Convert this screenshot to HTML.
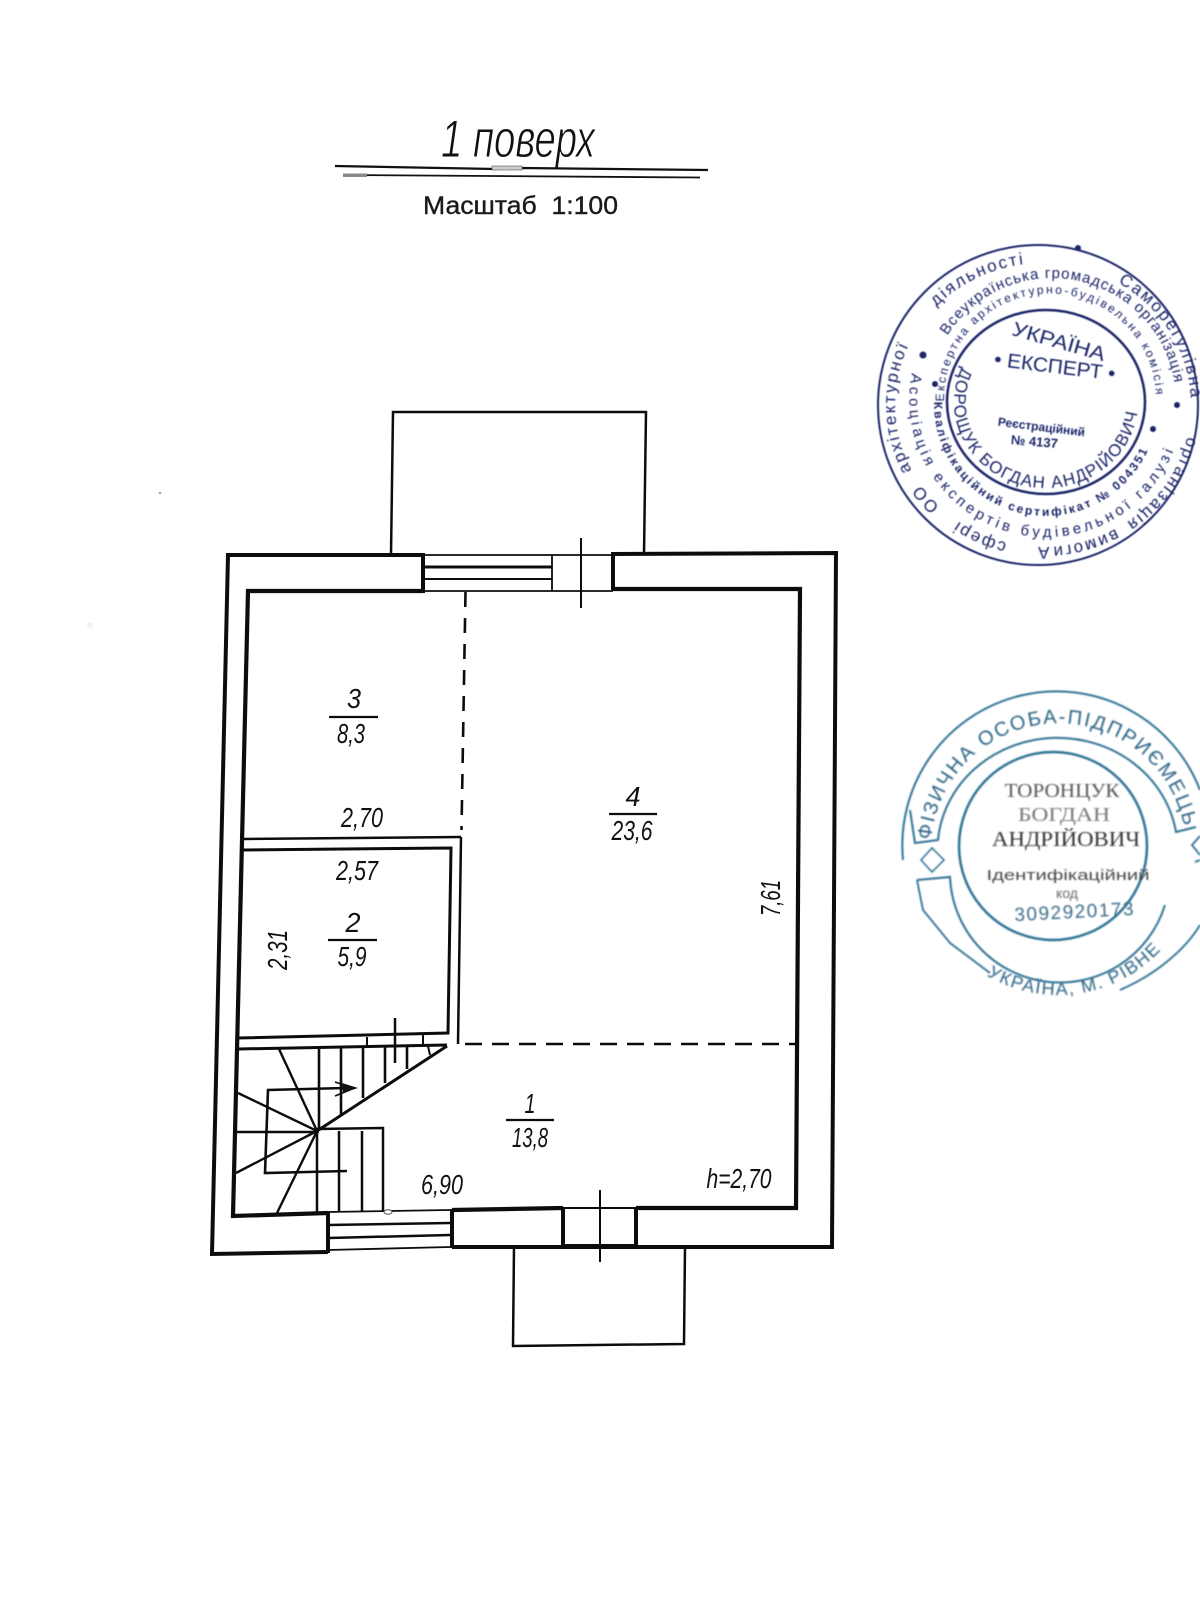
<!DOCTYPE html>
<html lang="uk"><head><meta charset="utf-8"><title>1 поверх</title>
<style>html,body{margin:0;padding:0;background:#fff}svg{display:block}
text{font-family:"Liberation Sans",sans-serif}
.d{font-style:italic;font-size:28px;fill:#111;text-anchor:middle}
.se{font-family:"Liberation Serif",serif}
</style></head><body>
<svg xmlns="http://www.w3.org/2000/svg" width="1200" height="1600" viewBox="0 0 1200 1600">
<defs>
<filter id="b1"><feGaussianBlur stdDeviation="0.55"/></filter>
<filter id="b2"><feGaussianBlur stdDeviation="0.8"/></filter>
<path id="o1b" d="M1043 263A148 142 0 0 1 1043 547A148 142 0 0 1 1043 263"/>
<path id="r2t" d="M928 402A124 124 0 0 1 1176 402"/>
<path id="r2b" d="M912 373A137 137 0 0 0 1175 447"/>
<path id="r3t" d="M946 420A106 106 0 1 1 1154 420"/>
<path id="r3b" d="M934 402A112 112 0 0 0 1152 440"/>
<path id="r4b" d="M962 367A92 86 0 1 0 1138 402"/>
<path id="s2t" d="M931 840A128 128 0 0 1 1186 840"/>
<path id="s2b" d="M918 855A140 140 0 0 0 1198 855"/>
</defs>
<rect width="1200" height="1600" fill="#fff"/>
<circle cx="160" cy="493" r="1.300" fill="#aaa"/>
<circle cx="90" cy="625" r="3" fill="#f1f1f1"/>

<!-- title -->
<text x="441" y="157" font-size="53" font-style="italic" fill="#111" stroke="#fff" stroke-width=".9" textLength="154" lengthAdjust="spacingAndGlyphs">1 поверх</text>
<g fill="none" stroke="#111">
<path d="M335 166L495 169L522 168L708 170" stroke-width="2.200"/>
<path d="M345 175L700 177.500" stroke-width="1.800"/>
</g>
<rect x="343" y="173.500" width="24" height="3.500" fill="#888"/>
<rect x="492" y="166" width="30" height="4" fill="#ccc" stroke="#555" stroke-width=".6"/>
<text x="423" y="214" font-size="25" fill="#1a1a1a" stroke="#1a1a1a" stroke-width=".4" textLength="195" lengthAdjust="spacingAndGlyphs" xml:space="preserve">Масштаб  1:100</text>

<!-- plan -->
<g fill="none" stroke="#0c0c0c" stroke-linejoin="miter" stroke-linecap="butt">
<!-- porches -->
<path d="M391 554L393 412H646L644 554" stroke-width="2.500"/>
<path d="M514 1246L513 1346L684 1344L685 1246" stroke-width="2.500"/>
<!-- outer wall -->
<path d="M423 555H228L212 1254L328 1252" stroke-width="4"/>
<path d="M613 554L836 553L832 1247L452 1247" stroke-width="4"/>
<!-- inner wall -->
<path d="M423 591H248L233 1216L328 1213" stroke-width="4.200"/>
<path d="M613 589H800L796 1208L636 1208" stroke-width="4.200"/>
<path d="M563 1208L452 1210" stroke-width="4.200"/>
<!-- top window/door -->
<path d="M423 553V593M613 552V590" stroke-width="4"/>
<path d="M423 567H552" stroke-width="3"/>
<path d="M423 579H552" stroke-width="2"/>
<path d="M423 591H613M423 555H613M552 555V591" stroke-width="1.800"/>
<path d="M581 538V608" stroke-width="2"/>
<!-- bottom window/door -->
<path d="M328 1212V1253M452 1209V1248M563 1207V1246M636 1207V1246" stroke-width="4"/>
<path d="M328 1225L450 1223" stroke-width="2.500"/>
<path d="M328 1238L450 1235" stroke-width="2.500"/>
<path d="M328 1212L450 1210M328 1250L450 1247" stroke-width="1.800"/>
<path d="M563 1208H636M563 1245H636" stroke-width="2"/>
<path d="M600 1190V1262" stroke-width="2"/>
<!-- dashed -->
<path d="M465.500 592L461.500 830" stroke-width="2.600" stroke-dasharray="15 11"/>
<path d="M465 1044H796" stroke-width="2.400" stroke-dasharray="17 10"/>
<!-- room 2 -->
<path d="M244 839L461 837" stroke-width="2.500"/>
<path d="M243 850L451 848L448 1033L238 1038" stroke-width="3"/>
<path d="M461 837L458 1044" stroke-width="2.500"/>
<path d="M238 1049L447 1045" stroke-width="3"/>
<path d="M367 1037V1048M423 1033V1046" stroke-width="2"/>
<path d="M395 1018V1063" stroke-width="2.500"/>
<!-- stairs -->
<path d="M317 1131L447 1046" stroke-width="3"/>
<path d="M319 1048V1128M341 1048V1115M363 1048V1098M385 1047V1083M407 1047V1069" stroke-width="2.600"/>
<path d="M428 1046L430 1055" stroke-width="2"/>
<path d="M279 1049L317 1131L238 1093M237 1132L317 1132M236 1173L317 1131L277 1213" stroke-width="2.400"/>
<path d="M317 1131V1213M339 1131V1212M362 1131V1212" stroke-width="2.500"/>
<path d="M317 1129L383 1128V1211" stroke-width="2.500"/>
<path d="M345 1088L268 1090L265 1173L347 1171" stroke-width="2.600"/>
<path d="M335 1082L350 1087M335 1096L350 1090" stroke-width="1.600"/>
</g>
<path d="M358 1088L342 1083L343 1093Z" fill="#111"/>
<ellipse cx="388" cy="1212" rx="4" ry="2.200" fill="#fff" stroke="#555"/>

<!-- labels -->
<g stroke="#0c0c0c" stroke-width="2.200">
<path d="M329 717H378M609 814H657M328 940H377M506 1120H554"/>
</g>
<g>
<text class="d" x="354" y="708" textLength="14" lengthAdjust="spacingAndGlyphs">3</text>
<text class="d" x="351" y="743" textLength="28" lengthAdjust="spacingAndGlyphs">8,3</text>
<text class="d" x="633" y="806" textLength="15" lengthAdjust="spacingAndGlyphs">4</text>
<text class="d" x="632" y="840" textLength="41" lengthAdjust="spacingAndGlyphs">23,6</text>
<text class="d" x="353" y="932" textLength="15" lengthAdjust="spacingAndGlyphs">2</text>
<text class="d" x="352" y="966" textLength="29" lengthAdjust="spacingAndGlyphs">5,9</text>
<text class="d" x="530" y="1113" textLength="11" lengthAdjust="spacingAndGlyphs">1</text>
<text class="d" x="530" y="1147" textLength="36" lengthAdjust="spacingAndGlyphs">13,8</text>
<text class="d" x="362" y="827" textLength="42" lengthAdjust="spacingAndGlyphs">2,70</text>
<text class="d" x="357" y="880" textLength="42" lengthAdjust="spacingAndGlyphs">2,57</text>
<text class="d" x="442" y="1194" textLength="42" lengthAdjust="spacingAndGlyphs">6,90</text>
<text class="d" x="739" y="1188" textLength="65" lengthAdjust="spacingAndGlyphs">h=2,70</text>
<text class="d" transform="translate(287 950) rotate(-90)" x="0" y="0" textLength="40" lengthAdjust="spacingAndGlyphs">2,31</text>
<text class="d" transform="translate(780 898) rotate(-90)" x="0" y="0" textLength="36" lengthAdjust="spacingAndGlyphs">7,61</text>
</g>

<!-- stamp 1 -->
<g filter="url(#b1)" fill="#1b2569">
<ellipse cx="1038" cy="405" rx="160" ry="160" fill="none" stroke="#1b2569" stroke-width="2"/>
<ellipse cx="1046" cy="402" rx="99" ry="92" fill="none" stroke="#1b2569" stroke-width="2.500"/>
<g font-size="17" letter-spacing="2">
<text><textPath href="#o1b" startOffset="8.600%">Саморегулівна</textPath></text>
<text><textPath href="#o1b" startOffset="28.500%">організація</textPath></text>
<text><textPath href="#o1b" startOffset="41.700%">вимоги</textPath></text>
<text><textPath href="#o1b" startOffset="49.300%">А</textPath></text>
<text><textPath href="#o1b" startOffset="54%">сфері</textPath></text>
<text><textPath href="#o1b" startOffset="62.500%">ОО</textPath></text>
<text><textPath href="#o1b" startOffset="67.500%">архітектурної</textPath></text>
<text><textPath href="#o1b" startOffset="87%">діяльності</textPath></text>
</g>
<text font-size="15"><textPath href="#r2t" startOffset="18%" textLength="300" lengthAdjust="spacing">Всеукраїнська громадська організація</textPath></text>
<text font-size="15"><textPath href="#r2b" textLength="405" lengthAdjust="spacing">Асоціація експертів будівельної галузі</textPath></text>
<text font-size="12"><textPath href="#r3t" startOffset="5%" textLength="330" lengthAdjust="spacing">Експертна архітектурно-будівельна комісія</textPath></text>
<text font-size="12" font-weight="bold"><textPath href="#r3b" textLength="305" lengthAdjust="spacing">Кваліфікаційний сертифікат № 004351</textPath></text>
<text font-size="17"><textPath href="#r4b" textLength="305" lengthAdjust="spacing">ДОРОЩУК БОГДАН АНДРІЙОВИЧ</textPath></text>
<text transform="translate(1057 348) rotate(16)" font-size="20" text-anchor="middle" textLength="96" lengthAdjust="spacingAndGlyphs">УКРАЇНА</text>
<text transform="translate(1054 373) rotate(7)" font-size="20" text-anchor="middle" textLength="122" lengthAdjust="spacingAndGlyphs">• ЕКСПЕРТ •</text>
<text transform="translate(1041 431) rotate(7)" font-size="12" font-weight="bold" text-anchor="middle">Реєстраційний</text>
<text transform="translate(1034 446) rotate(5)" font-size="13" font-weight="bold" text-anchor="middle">№ 4137</text>
<circle cx="1078" cy="248" r="3"/><circle cx="923" cy="355" r="3.500"/><circle cx="935" cy="384" r="3"/><circle cx="1177" cy="405" r="3"/><circle cx="1153" cy="429" r="3"/>
</g>

<!-- stamp 2 -->
<g filter="url(#b2)" fill="none" stroke="#2b6f93">
<path d="M903 860A154 154 0 0 1 1200 790" stroke-width="2"/>
<path d="M910 810L915 843L938 840A120 112 0 0 1 1176 832L1196 827" stroke-width="2"/>
<circle cx="1053" cy="846" r="94" stroke-width="2.500"/>
<path d="M917 880L950 877A110 110 0 0 0 1165 905" stroke-width="2"/>
<path d="M917 880L923 910L950 943L990 973M1120 990C1155 975 1185 950 1200 925" stroke-width="1.800"/>
<path d="M932 848L944 860L932 872L921 860Z" stroke-width="1.500"/>
<path d="M1200 836L1192 845L1200 855M1195 862L1200 860" stroke-width="1.800"/>
</g>
<g filter="url(#b2)" fill="#2a6485">
<text font-size="20"><textPath href="#s2t" textLength="365" lengthAdjust="spacing">ФІЗИЧНА ОСОБА-ПІДПРИЄМЕЦЬ</textPath></text>
<text font-size="18"><textPath href="#s2b" startOffset="33%" textLength="190" lengthAdjust="spacing">УКРАЇНА, М. РІВНЕ</textPath></text>
</g>
<g filter="url(#b2)" text-anchor="middle">
<text class="se" x="1062" y="797" font-size="20" fill="#555" textLength="115" lengthAdjust="spacingAndGlyphs">ТОРОНЦУК</text>
<text class="se" x="1064" y="821" font-size="20" fill="#777" textLength="92" lengthAdjust="spacingAndGlyphs">БОГДАН</text>
<text class="se" x="1066" y="846" font-size="21" fill="#333" textLength="148" lengthAdjust="spacingAndGlyphs">АНДРІЙОВИЧ</text>
<text x="1068" y="880" font-size="15" fill="#444" textLength="163" lengthAdjust="spacingAndGlyphs">Ідентифікаційний</text>
<text x="1067" y="898" font-size="14" fill="#666">код</text>
<text transform="translate(1075 918) rotate(-3)" font-size="19" fill="#3a6a88" letter-spacing="1.500">3092920173</text>
</g>
</svg>
</body></html>
